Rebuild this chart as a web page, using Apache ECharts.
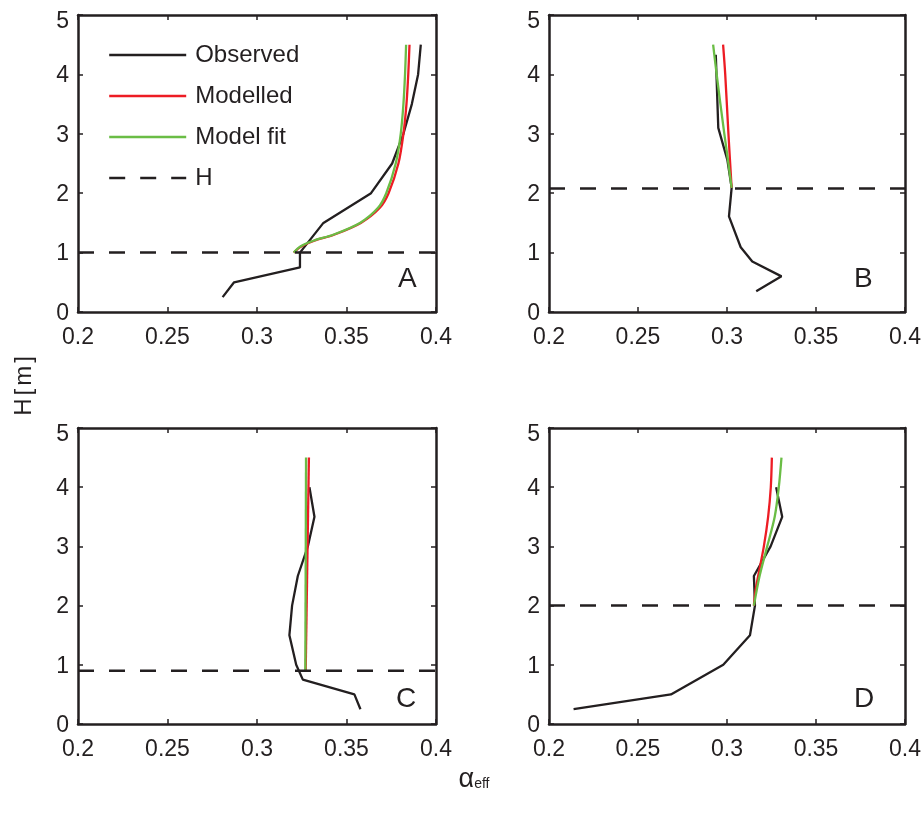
<!DOCTYPE html>
<html>
<head>
<meta charset="utf-8">
<script src="https://cdn.jsdelivr.net/npm/echarts@6/dist/echarts.min.js"></script>
<style>
html,body{margin:0;padding:0;background:#fff;}
#chart{width:924px;height:821px;}
</style>
</head>
<body>
<div id="chart"></div>
<script>
// ---- tick labels ----
const xTicks = [0.2, 0.25, 0.3, 0.35, 0.4];
const yTicks = [0, 1, 2, 3, 4, 5];
const panelLabels = ['A', 'B', 'C', 'D'];
const seriesNames = ['Observed', 'Modelled', 'Model fit', 'H'];

// ---- Panel A ----
const obsA_h = [4.5, 4.0, 3.5, 3.0, 2.5, 2.0, 1.5, 1.0, 0.75, 0.5, 0.25];
const obsA_a = [0.3915, 0.390, 0.3865, 0.3818, 0.3755, 0.3637, 0.3371, 0.324, 0.324, 0.2872, 0.2808];
const modA_h = [1.0, 1.1, 1.2, 1.3, 1.5, 1.75, 2.0, 2.5, 3.0, 3.5, 4.0, 4.5];
const modA_a = [0.3205, 0.3245, 0.332, 0.343, 0.358, 0.3685, 0.3735, 0.3790, 0.3818, 0.3835, 0.3845, 0.3852];
const fitA_h = [1.0, 1.1, 1.2, 1.3, 1.5, 1.75, 2.0, 2.5, 3.0, 3.5, 4.0, 4.5];
const fitA_a = [0.3205, 0.324, 0.3315, 0.3425, 0.3575, 0.3675, 0.3722, 0.3775, 0.3803, 0.3818, 0.3827, 0.3833];
const hA = 1.0;

// ---- Panel B ----
const obsB_h = [4.33, 3.1, 2.56, 2.09, 1.61, 1.09, 0.85, 0.6, 0.35];
const obsB_a = [0.2937, 0.2951, 0.3002, 0.3026, 0.3011, 0.3077, 0.3142, 0.3306, 0.3164];
const modB_h = [2.09, 3.0, 4.0, 4.5];
const modB_a = [0.3026, 0.3008, 0.2990, 0.2978];
const fitB_h = [2.09, 2.5, 3.0, 3.5, 4.0, 4.5];
const fitB_a = [0.3026, 0.3008, 0.2985, 0.2963, 0.2942, 0.2922];
const hB = 2.08;

// ---- Panel C ----
const obsC_h = [4.0, 3.5, 3.0, 2.5, 2.0, 1.5, 1.0, 0.75, 0.5, 0.25];
const obsC_a = [0.3293, 0.3321, 0.3284, 0.3228, 0.3196, 0.3181, 0.3219, 0.3256, 0.3544, 0.3578];
const modC_h = [0.9, 4.5];
const modC_a = [0.3272, 0.3290];
const fitC_h = [0.9, 4.5];
const fitC_a = [0.3270, 0.3274];
const hC = 0.9;

// ---- Panel D ----
const obsD_h = [4.0, 3.5, 3.0, 2.5, 2.0, 1.5, 1.0, 0.5, 0.25];
const obsD_a = [0.3276, 0.3310, 0.3245, 0.3151, 0.3157, 0.3129, 0.2979, 0.2685, 0.2138];
const modD_h = [2.0, 2.25, 2.5, 3.0, 3.5, 4.0, 4.5];
const modD_a = [0.3151, 0.3160, 0.3175, 0.3207, 0.3231, 0.3246, 0.3252];
const fitD_h = [2.0, 2.5, 3.0, 3.5, 4.0, 4.5];
const fitD_a = [0.3151, 0.3183, 0.3226, 0.3268, 0.3291, 0.3306];
const hD = 2.0;

const panels = [
  {obs: [obsA_a, obsA_h], mod: [modA_a, modA_h], fit: [fitA_a, fitA_h], h: hA},
  {obs: [obsB_a, obsB_h], mod: [modB_a, modB_h], fit: [fitB_a, fitB_h], h: hB},
  {obs: [obsC_a, obsC_h], mod: [modC_a, modC_h], fit: [fitC_a, fitC_h], h: hC},
  {obs: [obsD_a, obsD_h], mod: [modD_a, modD_h], fit: [fitD_a, fitD_h], h: hD}
];

const INK = '#231F20';
const RED = '#ED1C24';
const GREEN = '#6ABD45';
const FONT = 'Liberation Sans, Arial, sans-serif';

const grids = [
  {left: 78, top: 15, width: 358, height: 297},
  {left: 549, top: 15, width: 358, height: 297},
  {left: 78, top: 428, width: 358, height: 296},
  {left: 549, top: 428, width: 358, height: 296}
];

const xMin = xTicks[0], xMax = xTicks[xTicks.length - 1], xStep = xTicks[1] - xTicks[0];
const yMin = yTicks[0], yMax = yTicks[yTicks.length - 1], yStep = yTicks[1] - yTicks[0];

const xAxes = [], yAxes = [], series = [];
grids.forEach((g, i) => {
  [false, true].forEach(isTop => {
    xAxes.push({
      type: 'value', gridIndex: i, position: isTop ? 'top' : 'bottom',
      min: xMin, max: xMax, interval: 0.05,
      axisLine: {show: true, onZero: false, lineStyle: {color: INK, width: 2.5}},
      axisTick: {show: true, inside: true, length: 5, lineStyle: {color: INK, width: 1.5}},
      axisLabel: {show: !isTop, color: INK, fontSize: 23, fontFamily: FONT, margin: 14,
        formatter: v => String(Math.round(v * 100) / 100)},
      splitLine: {show: false}
    });
  });
  [false, true].forEach(isRight => {
    yAxes.push({
      type: 'value', gridIndex: i, position: isRight ? 'right' : 'left',
      min: yMin, max: yMax, interval: yStep,
      axisLine: {show: true, onZero: false, lineStyle: {color: INK, width: 2.5}},
      axisTick: {show: true, inside: true, length: 5, lineStyle: {color: INK, width: 1.5}},
      axisLabel: {show: !isRight, color: INK, fontSize: 23, fontFamily: FONT, margin: 9,
        formatter: v => v === yMax ? '{t|' + v + '}' : '{n|' + v + '}',
        rich: {
          t: {fontSize: 23, fontFamily: FONT, color: INK, padding: [13, 0, 0, 0]},
          n: {fontSize: 23, fontFamily: FONT, color: INK, padding: [3, 0, 0, 0]}
        }},
      splitLine: {show: false}
    });
  });

  const p = panels[i];
  const pair = (a, h) => a.map((v, k) => [v, h[k]]);
  const base = {type: 'line', xAxisIndex: 2 * i, yAxisIndex: 2 * i, symbol: 'none', showSymbol: false, animation: false};
  series.push(Object.assign({}, base, {
    name: 'Observed', data: pair(p.obs[0], p.obs[1]),
    lineStyle: {color: INK, width: 2.3}, itemStyle: {color: INK}, z: 2
  }));
  series.push(Object.assign({}, base, {
    name: 'Modelled', data: pair(p.mod[0], p.mod[1]), smooth: 0.3,
    lineStyle: {color: RED, width: 2.3}, itemStyle: {color: RED}, z: 3
  }));
  series.push(Object.assign({}, base, {
    name: 'Model fit', data: pair(p.fit[0], p.fit[1]), smooth: 0.3,
    lineStyle: {color: GREEN, width: 2.3}, itemStyle: {color: GREEN}, z: 4
  }));
  series.push(Object.assign({}, base, {
    name: 'H', data: [[xMin, p.h], [xMax, p.h]],
    lineStyle: {color: INK, width: 2.5, type: [16, 15]}, itemStyle: {color: INK}, z: 5
  }));
});

const titles = [
  {text: panelLabels[0], left: 398, top: 265},
  {text: panelLabels[1], left: 854, top: 265},
  {text: panelLabels[2], left: 396, top: 685},
  {text: panelLabels[3], left: 854, top: 685}
].map(t => Object.assign(t, {padding: 0, textStyle: {color: INK, fontSize: 28, fontWeight: 'normal', fontFamily: FONT}}));

const option = {
  backgroundColor: '#fff',
  animation: false,
  grid: grids,
  xAxis: xAxes,
  yAxis: yAxes,
  series: series,
  title: titles,
  legend: {
    data: seriesNames,
    orient: 'vertical',
    left: 108, top: 42,
    itemWidth: 77, itemHeight: 14, itemGap: 15,
    padding: 0,
    selectedMode: false,
    itemStyle: {opacity: 0},
    lineStyle: {width: 2.4},
    textStyle: {color: INK, fontSize: 24, fontFamily: FONT, lineHeight: 26, padding: [0, 0, 0, 4]}
  },
  graphic: [
    {
      type: 'text', x: 24, y: 386, rotation: Math.PI / 2,
      style: {
        text: '{a|H}{a|[}{a|m}{a|]}',
        rich: {a: {fontSize: 24, fontFamily: FONT, fill: INK, padding: [0, 1.5, 0, 1.5]}},
        align: 'center', verticalAlign: 'middle', fill: INK
      }
    },
    {
      type: 'text', x: 474, y: 780,
      style: {
        text: '{a|α}{s|eff}',
        rich: {
          a: {fontSize: 27, fontFamily: FONT, fill: INK},
          s: {fontSize: 14, fontFamily: FONT, fill: INK, padding: [8, 0, 0, 0]}
        },
        align: 'center', verticalAlign: 'middle', fill: INK
      }
    }
  ]
};

const chart = echarts.init(document.getElementById('chart'), null, {renderer: 'canvas'});
chart.setOption(option);
</script>
</body>
</html>
